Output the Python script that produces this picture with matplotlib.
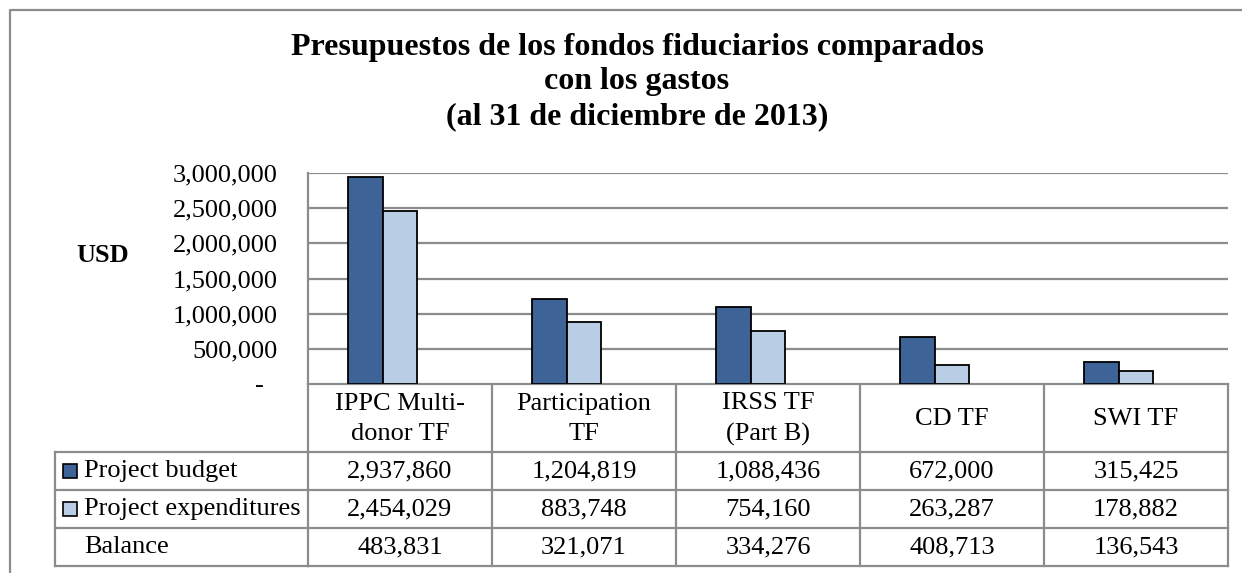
import matplotlib
matplotlib.use("Agg")
import matplotlib.pyplot as plt
import numpy as np
from matplotlib.transforms import blended_transform_factory
from matplotlib.patches import Rectangle

# Trust fund budgets vs expenditures (as at 31 Dec 2013)
categories = ["IPPC Multi-\ndonor TF", "Participation\nTF", "IRSS TF\n(Part B)", "CD TF", "SWI TF"]
budget = [2937860, 1204819, 1088436, 672000, 315425]
expenditures = [2454029, 883748, 754160, 263287, 178882]
balance = [483831, 321071, 334276, 408713, 136543]
row_names = ["Project budget", "Project expenditures", "Balance"]
yticks = [0, 500000, 1000000, 1500000, 2000000, 2500000, 3000000]

dark = "#3E6497"
light = "#B9CDE5"
grid_c = "#8C8C8C"
fs = 19

plt.rcParams["font.family"] = ["Liberation Serif", "DejaVu Serif"]

W, H = 1242, 573
fig = plt.figure(figsize=(W / 100, H / 100), dpi=100)

# overlay in pixel coords for frame / table
ov = fig.add_axes([0, 0, 1, 1])
ov.set_xlim(0, W)
ov.set_ylim(H, 0)
ov.axis("off")
ov.plot([10, 10, W + 5], [H + 5, 10, 10], color="#8C8C8C", lw=1.6, clip_on=False)

# bar axes
L, R, T, B = 308, 1228, 173, 384
ax = fig.add_axes([L / W, 1 - B / H, (R - L) / W, (B - T) / H])
x = np.arange(len(categories))
bw = 0.1875
ax.bar(x - bw, budget, bw, color=dark, edgecolor="black", linewidth=1.3, zorder=3)
ax.bar(x, expenditures, bw, color=light, edgecolor="black", linewidth=1.3, zorder=3)
ax.set_xlim(-0.5, len(categories) - 0.5)
ax.set_ylim(0, 3000000)
ax.set_yticks(yticks)
ax.set_yticklabels(["-  "] + [f"{v:,}" for v in yticks[1:]], fontsize=fs)
ax.tick_params(axis="y", length=0, pad=22)
ax.set_xticks([])
ax.yaxis.grid(True, color=grid_c, lw=1.6, zorder=0)
for s in ["top", "right", "bottom"]:
    ax.spines[s].set_visible(False)
ax.spines["left"].set_color(grid_c)
ax.spines["left"].set_linewidth(1.6)

fig.text(103 / W, 1 - 255 / H, "USD", fontsize=fs, fontweight="bold", ha="center", va="center")
fig.text(637 / W, 1 - 82 / H,
         "Presupuestos de los fondos fiduciarios comparados\ncon los gastos\n(al 31 de diciembre de 2013)",
         fontsize=23, fontweight="bold", ha="center", va="center", linespacing=1.25)

# data table: x follows the bar axis categories, y in pixels
tr = blended_transform_factory(ax.transData, ov.transData)
head_top, head_bot = 384, 452
rows_y = [452, 490, 528, 566]
lbl_left = 55
edges = np.arange(len(categories) + 1) - 0.5
kw = dict(color=grid_c, lw=1.6, clip_on=False)
for e in edges:
    ov.plot([e, e], [head_top, rows_y[-1]], transform=tr, **kw)
ov.plot([edges[0], edges[-1]], [head_top, head_top], transform=tr, **kw)
for yy in rows_y:
    ov.plot([lbl_left, L], [yy, yy], **kw)
    ov.plot([edges[0], edges[-1]], [yy, yy], transform=tr, **kw)
ov.plot([lbl_left, lbl_left], [rows_y[0], rows_y[-1]], **kw)

for i, c in enumerate(categories):
    ov.text(i, (head_top + head_bot) / 2 + 1, c, transform=tr, ha="center", va="center",
            fontsize=fs, linespacing=1.45)
table_vals = [budget, expenditures, balance]
key_cols = [dark, light, None]
for r, (name, vals, kc) in enumerate(zip(row_names, table_vals, key_cols)):
    yc = (rows_y[r] + rows_y[r + 1]) / 2
    if kc is not None:
        ov.add_patch(Rectangle((63, yc - 7), 14, 14, facecolor=kc, edgecolor="black", lw=1.2))
    ov.text(84, yc, name, ha="left", va="center", fontsize=fs)
    for i, v in enumerate(vals):
        ov.text(i, yc, f"{v:,}", transform=tr, ha="center", va="center", fontsize=fs)

fig.savefig("out.png", dpi=100)
